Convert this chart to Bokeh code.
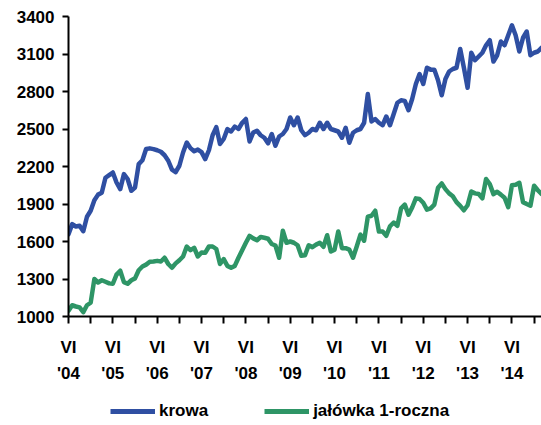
from bokeh.plotting import figure
from bokeh.models import LinearAxis, FixedTicker, Range1d, Legend, LegendItem
from bokeh.layouts import column
from bokeh.embed import file_html
from bokeh.resources import INLINE

# monthly values, month index 0 = VI 2004
krowa = [1659, 1739, 1720, 1726, 1682, 1798, 1846, 1930, 1975, 1990,
         2110, 2131, 2152, 2072, 2019, 2139, 2100, 2006, 2032, 2219,
         2250, 2340, 2345, 2339, 2330, 2318, 2290, 2246, 2175, 2155,
         2206, 2312, 2392, 2347, 2322, 2335, 2315, 2259, 2330, 2450,
         2515, 2380, 2420, 2499, 2480, 2520, 2500, 2550, 2580, 2400,
         2472, 2486, 2450, 2430, 2385, 2460, 2366, 2440, 2460, 2500,
         2592, 2530, 2592, 2490, 2450, 2470, 2500, 2490, 2550, 2500,
         2550, 2500, 2490, 2480, 2430, 2510, 2390, 2470, 2490, 2500,
         2550, 2780, 2560, 2580, 2550, 2530, 2600, 2530, 2620, 2710,
         2730, 2725, 2650, 2740, 2860, 2940, 2860, 2990, 2975, 2975,
         2890, 2770, 2900, 2960, 2980, 2990, 3140, 2990, 2830, 3110,
         3050, 3080, 3110, 3170, 3210, 3040, 3090, 3200, 3170, 3250,
         3330, 3250, 3120, 3230, 3280, 3090, 3110, 3120, 3150]

jalowka = [1046, 1090, 1080, 1073, 1035, 1090, 1110, 1300, 1272, 1290,
           1278, 1265, 1262, 1335, 1366, 1275, 1262, 1290, 1305, 1370,
           1400, 1415, 1438, 1440, 1445, 1440, 1470, 1420, 1390, 1425,
           1450, 1480, 1560, 1530, 1550, 1480, 1512, 1510, 1560, 1560,
           1540, 1420, 1459, 1405, 1390, 1405, 1470, 1530, 1590, 1645,
           1625, 1610, 1636, 1630, 1622, 1580, 1568, 1470, 1686, 1590,
           1600, 1590, 1570, 1486, 1490, 1570, 1555, 1575, 1590, 1558,
           1650, 1520, 1535, 1680, 1547, 1547, 1535, 1470, 1560, 1655,
           1606, 1798, 1806, 1846, 1680, 1680, 1646, 1722, 1752, 1726,
           1865, 1895, 1815, 1872, 1945, 1940, 1910, 1855, 1865, 1895,
           2030, 2064, 2019, 1985, 1962, 1915, 1885, 1850, 1890, 2000,
           1985, 1980, 1945, 2100, 2060, 1979, 1998, 1975, 1950, 1875,
           2050, 2054, 2070, 1915, 1900, 1886, 2046, 2010, 1980]

months = list(range(len(krowa)))
y_ticks = [1000, 1300, 1600, 1900, 2200, 2500, 2800, 3100, 3400]
half_year_ticks = list(range(0, 127, 6))
year_ticks = list(range(0, 121, 12))
year_labels = ["'04", "'05", "'06", "'07", "'08", "'09", "'10", "'11", "'12", "'13", "'14"]
month_label = "VI"
series_names = ["krowa", "jałówka 1-roczna"]
series_colors = ["#2f4fa2", "#2e9566"]

FONT = "Liberation Sans"
FS = "17px"

p = figure(width=541, height=385, output_backend="svg", toolbar_location=None,
           x_range=Range1d(0, 128.0), y_range=Range1d(1000, 3400),
           min_border_left=68, min_border_right=0, min_border_top=16, min_border_bottom=69,
           x_axis_type=None)
p.xgrid.visible = False
p.ygrid.visible = False
p.outline_line_color = None
p.background_fill_color = "white"
p.border_fill_color = "white"

p.line(months, krowa, line_color=series_colors[0], line_width=4.5, line_join="round", line_cap="round")
p.line(months, jalowka, line_color=series_colors[1], line_width=4.5, line_join="round", line_cap="round")

# y axis
ya = p.yaxis[0]
ya.ticker = FixedTicker(ticks=y_ticks)
ya.axis_line_color = "black"
ya.axis_line_width = 2
ya.major_tick_line_width = 2
ya.major_tick_out = 6
ya.major_tick_in = 0
ya.minor_tick_line_color = None
ya.major_label_standoff = 8
ya.major_label_text_font = FONT
ya.major_label_text_font_size = FS
ya.major_label_text_font_style = "bold"
ya.major_label_text_color = "black"

# x axis 1: ticks and "VI"
xa = LinearAxis(ticker=FixedTicker(ticks=half_year_ticks))
xa.major_label_overrides = {m: (month_label if m % 12 == 0 else "") for m in half_year_ticks}
xa.axis_line_color = "black"
xa.axis_line_width = 2
xa.major_tick_line_width = 2
xa.major_tick_out = 7
xa.major_tick_in = 0
xa.minor_tick_line_color = None
xa.major_label_standoff = 14
xa.major_label_text_font = FONT
xa.major_label_text_font_size = FS
xa.major_label_text_font_style = "bold"
xa.major_label_text_color = "black"
p.add_layout(xa, "below")

# x axis 2: years
xb = LinearAxis(ticker=FixedTicker(ticks=year_ticks))
xb.major_label_overrides = {m: lab for m, lab in zip(year_ticks, year_labels)}
xb.axis_line_color = None
xb.major_tick_line_color = None
xb.major_tick_out = 0
xb.major_tick_in = 0
xb.minor_tick_line_color = None
xb.major_label_standoff = 4
xb.major_label_text_font = FONT
xb.major_label_text_font_size = FS
xb.major_label_text_font_style = "bold"
xb.major_label_text_color = "black"
p.add_layout(xb, "below")

# legend strip below the chart (its lines lie outside its ranges, only the legend shows)
lg = figure(width=541, height=40, output_backend="svg", toolbar_location=None,
            x_range=Range1d(-3, -2), y_range=Range1d(0, 1),
            x_axis_type=None, y_axis_type=None,
            min_border_left=0, min_border_right=0, min_border_top=0, min_border_bottom=0)
lg.xgrid.visible = False
lg.ygrid.visible = False
lg.outline_line_color = None
lg.background_fill_color = "white"
lg.border_fill_color = "white"
l1 = lg.line(months, krowa, line_color=series_colors[0], line_width=5)
l2 = lg.line(months, jalowka, line_color=series_colors[1], line_width=5)
legend = Legend(items=[LegendItem(label=series_names[0], renderers=[l1]),
                       LegendItem(label=series_names[1], renderers=[l2])],
                orientation="horizontal", location=(42, 4),
                border_line_color=None, background_fill_alpha=0,
                glyph_width=45, glyph_height=18, label_height=18, label_standoff=4, spacing=56,
                label_text_font=FONT, label_text_font_size=FS, label_text_font_style="bold",
                label_text_color="black", margin=0, padding=0)
lg.add_layout(legend, "center")

layout = column(p, lg, spacing=0)
open("out.html", "w").write(file_html(layout, INLINE))
